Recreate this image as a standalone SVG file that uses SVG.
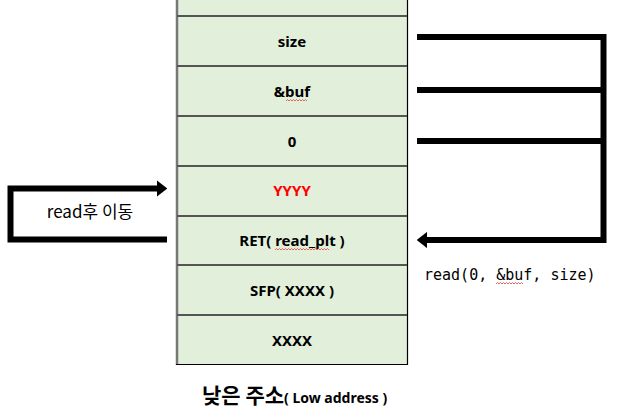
<svg xmlns="http://www.w3.org/2000/svg" width="617" height="416" viewBox="0 0 617 416">
<style>
.cell{fill:#e2efda;}
.sep{stroke:#555;stroke-width:2;}
.lbl{font-family:"Noto Sans","Noto Sans CJK KR",sans-serif;font-weight:bold;font-size:15px;text-anchor:middle;fill:#000;}
.con{fill:none;stroke:#000;stroke-width:6;}
.wave{fill:none;stroke:#e04040;stroke-width:0.8;}
</style>
<defs>
<marker id="ah" viewBox="0 0 10 10" refX="0" refY="5" markerWidth="1.7" markerHeight="2.7" orient="auto" markerUnits="strokeWidth" preserveAspectRatio="none">
<path d="M0,0 L10,5 L0,10 Z" fill="#000"/>
</marker>
</defs>
<g id="stack">
<rect class="cell" x="177" y="-2" width="230" height="366"/>
<line x1="177" y1="-2" x2="177" y2="365" stroke="#777" stroke-width="2.5"/>
<line x1="407.5" y1="-2" x2="407.5" y2="365" stroke="#000" stroke-width="1.2"/>
<line x1="176" y1="364.5" x2="408" y2="364.5" stroke="#000" stroke-width="1.2"/>
<line class="sep" x1="177" y1="16" x2="407" y2="16"/>
<line class="sep" x1="177" y1="66" x2="407" y2="66"/>
<line class="sep" x1="177" y1="116" x2="407" y2="116"/>
<line class="sep" x1="177" y1="166" x2="407" y2="166"/>
<line class="sep" x1="177" y1="216" x2="407" y2="216"/>
<line class="sep" x1="177" y1="265" x2="407" y2="265"/>
<line class="sep" x1="177" y1="315" x2="407" y2="315"/>
</g>
<g id="n-size"><text class="lbl" x="292" y="47">size</text></g>
<g id="n-buf"><text class="lbl" x="292" y="97">&amp;buf</text>
<path class="wave" d="M286,101 l1.5,-1.5 l1.5,1.5 l1.5,-1.5 l1.5,1.5 l1.5,-1.5 l1.5,1.5 l1.5,-1.5 l1.5,1.5 l1.5,-1.5 l1.5,1.5 l1.5,-1.5 l1.5,1.5 l1.5,-1.5 l1.5,1.5"/></g>
<g id="n-zero"><text class="lbl" x="292" y="147">0</text></g>
<g id="n-yyyy"><text class="lbl" x="292" y="196" style="fill:#ff0000">YYYY</text></g>
<g id="n-ret"><text class="lbl" x="292" y="246">RET( read_plt )</text>
<path class="wave" d="M275,250 l1.5,-1.5 l1.5,1.5 l1.5,-1.5 l1.5,1.5 l1.5,-1.5 l1.5,1.5 l1.5,-1.5 l1.5,1.5 l1.5,-1.5 l1.5,1.5 l1.5,-1.5 l1.5,1.5 l1.5,-1.5 l1.5,1.5 l1.5,-1.5 l1.5,1.5 l1.5,-1.5 l1.5,1.5 l1.5,-1.5 l1.5,1.5 l1.5,-1.5 l1.5,1.5 l1.5,-1.5 l1.5,1.5 l1.5,-1.5 l1.5,1.5 l1.5,-1.5 l1.5,1.5 l1.5,-1.5 l1.5,1.5 l1.5,-1.5 l1.5,1.5 l1.5,-1.5 l1.5,1.5 l1.5,-1.5 l1.5,1.5"/></g>
<g id="n-sfp"><text class="lbl" x="292" y="296">SFP( XXXX )</text></g>
<g id="n-xxxx"><text class="lbl" x="292" y="346">XXXX</text></g>
<g id="caption"><text x="202" y="403" font-family="Noto Sans CJK KR,Noto Sans,sans-serif" font-weight="bold" font-size="21"><tspan>낮은 주소</tspan><tspan font-family="Noto Sans,Noto Sans CJK KR,sans-serif" font-size="14">( Low address )</tspan></text></g>
<g id="connectors">
<path class="con" d="M417,37 H603.5 V240 H427" marker-end="url(#ah)"/>
<line class="con" x1="417" y1="90" x2="603.5" y2="90"/>
<line class="con" x1="417" y1="141" x2="603.5" y2="141"/>
<path class="con" d="M167,239.5 H10.5 V188.5 H157" marker-end="url(#ah)"/>
</g>
<g id="label-left"><text x="90" y="218" text-anchor="middle" font-family="Noto Sans CJK KR,sans-serif" font-size="17">read후 이동</text></g>
<g id="label-right"><text x="424" y="280" font-family="DejaVu Sans Mono,monospace" font-size="15">read(0, &amp;buf, size)</text>
<path class="wave" d="M496,284 l1.5,-1.5 l1.5,1.5 l1.5,-1.5 l1.5,1.5 l1.5,-1.5 l1.5,1.5 l1.5,-1.5 l1.5,1.5 l1.5,-1.5 l1.5,1.5 l1.5,-1.5 l1.5,1.5 l1.5,-1.5 l1.5,1.5 l1.5,-1.5 l1.5,1.5 l1.5,-1.5 l1.5,1.5"/></g>
</svg>
